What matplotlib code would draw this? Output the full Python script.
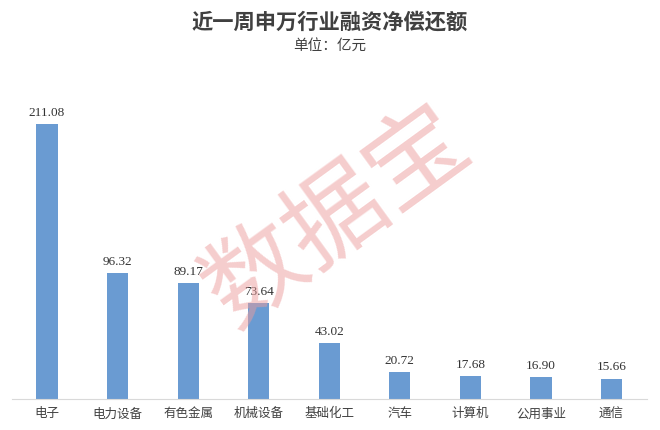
import matplotlib.pyplot as plt
import numpy as np

plt.rcParams['font.family'] = ['Noto Sans CJK SC', 'DejaVu Sans']

industries = ['电子', '电力设备', '有色金属', '机械设备', '基础化工', '汽车', '计算机', '公用事业', '通信']
repay = [211.08, 96.32, 89.17, 73.64, 43.02, 20.72, 17.68, 16.90, 15.66]

fig = plt.figure(figsize=(6.6, 4.3), dpi=100)
ax = fig.add_axes([0.0177, 0.072, 0.9623, 0.758])

x = np.arange(len(industries))
ax.bar(x, repay, width=0.30, color='#6a9bd2', zorder=2)
for xi, v in zip(x, repay):
    ax.text(xi, v + 4, f'{v:.2f}', ha='center', va='bottom', fontsize=9.5,
            family='Liberation Serif', color='#333333')

ax.set_xlim(-0.5, len(industries) - 0.5)
ax.set_ylim(0, 250)
ax.set_xticks(x)
ax.set_xticklabels(industries, fontsize=9, color='#404040')
ax.tick_params(axis='x', length=0, pad=6)
ax.set_yticks([])
for s in ['top', 'right', 'left']:
    ax.spines[s].set_visible(False)
ax.spines['bottom'].set_color('#d9d9d9')

fig.text(0.5, 0.948, '近一周申万行业融资净偿还额', ha='center', va='center',
         fontsize=15.3, fontweight='bold', color='#404040')
fig.text(0.5, 0.893, '单位：亿元', ha='center', va='center', fontsize=10.5, color='#404040')

# watermark
fig.text(0.51, 0.495, '数据宝', ha='center', va='center', fontsize=72, rotation=36,
         fontweight='light', color='#ec9c9c', alpha=0.5, zorder=10)

fig.savefig('out.png', dpi=100)
